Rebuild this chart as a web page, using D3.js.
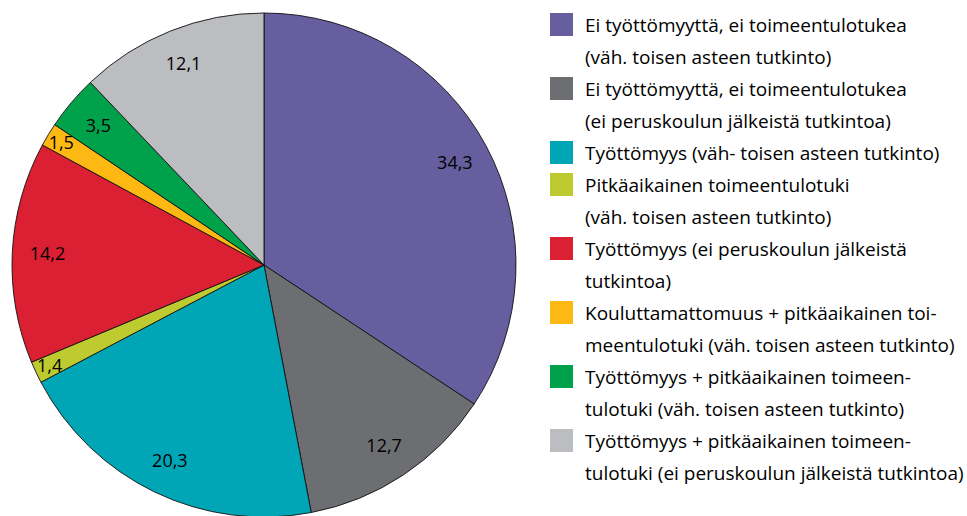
<!DOCTYPE html>
<html>
<head>
<meta charset="utf-8">
<script src="https://cdn.jsdelivr.net/npm/d3@7"></script>
<style>
  body { margin: 0; background: #fff; }
  svg text { font-family: "Open Sans", "Noto Sans", sans-serif; fill: #000; }
</style>
</head>
<body>
<div id="chart"></div>
<script>
// Shares (%) in drawing order, clockwise from 12 o'clock
const values = [34.3, 12.7, 20.3, 1.4, 14.2, 1.5, 3.5, 12.1];
const valueLabels = ["34,3", "12,7", "20,3", "1,4", "14,2", "1,5", "3,5", "12,1"];
const colors = ["#665e9e", "#6d6e71", "#00a5b6", "#bdcb31", "#da2032", "#fdb813", "#00a14b", "#bcbdc0"];
// Legend entries, each a list of text lines
const legendLines = [
    ["Ei työttömyyttä, ei toimeentulotukea", "(väh. toisen asteen tutkinto)"],
    ["Ei työttömyyttä, ei toimeentulotukea", "(ei peruskoulun jälkeistä tutkintoa)"],
    ["Työttömyys (väh- toisen asteen tutkinto)"],
    ["Pitkäaikainen toimeentulotuki", "(väh. toisen asteen tutkinto)"],
    ["Työttömyys (ei peruskoulun jälkeistä", "tutkintoa)"],
    ["Kouluttamattomuus + pitkäaikainen toi-", "meentulotuki (väh. toisen asteen tutkinto)"],
    ["Työttömyys + pitkäaikainen toimeen-", "tulotuki (väh. toisen asteen tutkinto)"],
    ["Työttömyys + pitkäaikainen toimeen-", "tulotuki (ei peruskoulun jälkeistä tutkintoa)"]
];

const width = 967, height = 516;
const cx = 264, cy = 265, radius = 252;

const svg = d3.select('#chart')
    .append('svg')
    .attr('width', width)
    .attr('height', height);

const pie = d3.pie().sort(null).value(d => d);
const arcs = pie(values);
const arc = d3.arc().innerRadius(0).outerRadius(radius);

const g = svg.append('g')
    .attr('transform', `translate(${cx},${cy})`);

// Slices
g.selectAll('path')
    .data(arcs)
    .join('path')
    .attr('d', arc)
    .attr('fill', (d, i) => colors[i])
    .attr('stroke', '#111')
    .attr('stroke-width', 0.9);

// Value labels, small slices pushed near the rim
g.selectAll('text.value')
    .data(arcs)
    .join('text')
    .attr('class', 'value')
    .attr('transform', d => {
        const r = d.data < 2 ? radius * 0.94 : radius * 0.86;
        const a = (d.startAngle + d.endAngle) / 2;
        return `translate(${Math.sin(a) * r},${-Math.cos(a) * r})`;
    })
    .attr('text-anchor', 'middle')
    .attr('dy', '0.35em')
    .style('font-size', '18px')
    .text((d, i) => valueLabels[i]);

// Legend
const legend = svg.append('g').attr('transform', 'translate(550,0)');
const lineH = 32;
let row = 0;
legendLines.forEach((lines, i) => {
    const baseY = 32 + row * lineH;
    legend.append('rect')
        .attr('x', 0)
        .attr('y', baseY - 19)
        .attr('width', 23)
        .attr('height', 23)
        .attr('fill', colors[i]);
    lines.forEach((t, j) => {
        legend.append('text')
            .attr('x', 35)
            .attr('y', baseY + j * lineH)
            .style('font-size', '19px')
            .text(t);
    });
    row += lines.length;
});
</script>
</body>
</html>
